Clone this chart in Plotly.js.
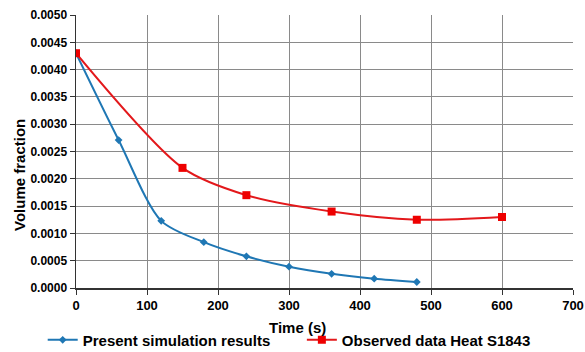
<!DOCTYPE html>
<html><head><meta charset="utf-8">
<script src="https://cdn.plot.ly/plotly-3.0.1.min.js"></script>
<style>html,body{margin:0;padding:0;background:#fff}#c{width:585px;height:352px}</style>
</head><body><div id="c"></div>
<script>
const simTime = [0, 60, 120, 180, 240, 300, 360, 420, 480];
const simVF = [0.0043, 0.00271, 0.00123, 0.00084, 0.00058, 0.00039, 0.00026, 0.00017, 0.00011];
const obsTime = [0, 150, 240, 360, 480, 600];
const obsVF = [0.0043, 0.0022, 0.0017, 0.0014, 0.00125, 0.0013];
const simName = "Present simulation results";
const obsName = "Observed data Heat S1843";
const xTitle = "Time (s)";
const yTitle = "Volume fraction";
const xTicks = [0, 100, 200, 300, 400, 500, 600, 700];
const yTicks = [0, 0.0005, 0.001, 0.0015, 0.002, 0.0025, 0.003, 0.0035, 0.004, 0.0045, 0.005];

const font = "Liberation Sans, Arial, sans-serif";
const traces = [
  {x: simTime, y: simVF, name: simName, mode: "lines+markers", type: "scatter", legend: "legend",
   line: {color: "#1f77b4", width: 2, shape: "spline", smoothing: 0.8},
   marker: {symbol: "diamond", size: 6, color: "#1f77b4"}},
  {x: obsTime, y: obsVF, name: obsName, mode: "lines+markers", type: "scatter", legend: "legend2",
   line: {color: "#e3181b", width: 2, shape: "spline", smoothing: 0.8},
   marker: {symbol: "square", size: 8, color: "#ee0000"}}
];
const legendBase = {orientation: "h", xref: "container", yref: "container",
  xanchor: "left", y: 0.034, yanchor: "middle",
  font: {size: 15, family: font, weight: "bold"}, itemwidth: 30,
  bgcolor: "rgba(0,0,0,0)"};
const layout = {
  width: 585, height: 352,
  margin: {l: 76, r: 12, t: 15, b: 64},
  paper_bgcolor: "#fff", plot_bgcolor: "#fff",
  font: {family: font, color: "#000"},
  showlegend: true,
  legend: Object.assign({}, legendBase, {x: 0.073}),
  legend2: Object.assign({}, legendBase, {x: 0.516}),
  annotations: [
    {text: "<b>" + xTitle + "</b>", xref: "paper", yref: "paper", x: 0.445, y: -0.1465,
     xanchor: "center", yanchor: "middle", showarrow: false, font: {size: 15, family: font}},
    {text: "<b>" + yTitle + "</b>", xref: "paper", yref: "paper", x: -0.1127, y: 0.414,
     xanchor: "center", yanchor: "middle", textangle: -90, showarrow: false, font: {size: 15, family: font}}
  ],
  xaxis: {range: [0, 700], tickvals: xTicks, ticktext: xTicks.map(String),
    showgrid: true, gridcolor: "#8a8a8a", gridwidth: 1,
    showline: true, linecolor: "#333", linewidth: 1.5,
    ticks: "outside", ticklen: 5, tickcolor: "#333",
    tickfont: {size: 13, family: font, weight: "bold"},
    automargin: false, zeroline: false, fixedrange: true},
  yaxis: {range: [0, 0.005], tickvals: yTicks, ticktext: yTicks.map(v => v.toFixed(4)),
    showgrid: true, gridcolor: "#8a8a8a", gridwidth: 1,
    showline: true, linecolor: "#333", linewidth: 1.5,
    ticks: "outside", ticklen: 5, tickcolor: "#333",
    tickfont: {size: 12, family: font, weight: "bold"},
    automargin: false, zeroline: false, fixedrange: true}
};
Plotly.newPlot("c", traces, layout, {displayModeBar: false, staticPlot: true});
</script></body></html>
